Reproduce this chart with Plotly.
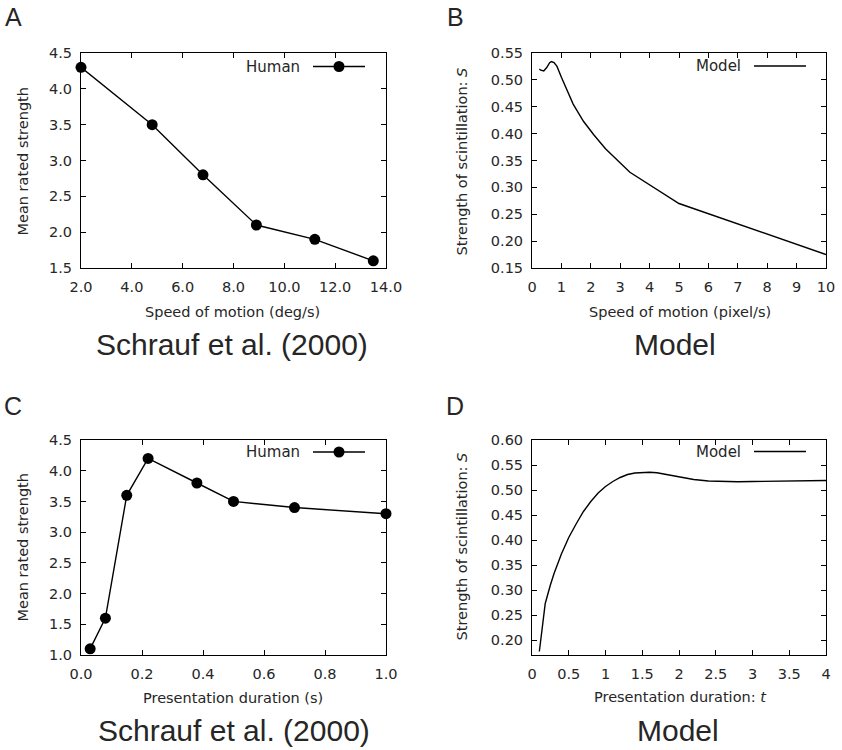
import plotly.graph_objects as go

W, H = 842, 750

# ---------------- data ----------------
# Panel A: Schrauf et al. (2000), speed of motion
speed_deg = [2.0, 4.8, 6.8, 8.9, 11.2, 13.5]
strength_speed = [4.3, 3.5, 2.8, 2.1, 1.9, 1.6]

# Panel B: model, speed of motion (pixel/s)
speed_pix = [0.25, 0.3, 0.4, 0.5, 0.6, 0.66, 0.75, 0.85, 1.0, 1.2, 1.4, 1.75, 2.1, 2.5, 2.9,
             3.33, 5.0, 10.0]
model_speed = [0.520, 0.518, 0.5165, 0.523, 0.532, 0.534, 0.532, 0.525, 0.505, 0.480, 0.455,
               0.423, 0.398, 0.372, 0.350, 0.328, 0.270, 0.175]

# Panel C: Schrauf et al. (2000), presentation duration (s)
duration_s = [0.03, 0.08, 0.15, 0.22, 0.38, 0.5, 0.7, 1.0]
strength_dur = [1.1, 1.6, 3.6, 4.2, 3.8, 3.5, 3.4, 3.3]

# Panel D: model, presentation duration t
duration_t = [0.1, 0.18, 0.25, 0.3, 0.4, 0.5, 0.6, 0.7, 0.8, 0.9, 1.0, 1.1, 1.2, 1.3, 1.4, 1.5,
              1.6, 1.7, 1.8, 2.0, 2.2, 2.4, 2.6, 2.8, 3.0, 3.5, 4.0]
model_dur = [0.177, 0.273, 0.310, 0.333, 0.372, 0.405, 0.432, 0.457, 0.477, 0.494, 0.507, 0.517,
             0.525, 0.531, 0.534, 0.5355, 0.5355, 0.5345, 0.532, 0.526, 0.521, 0.518, 0.5165,
             0.5165, 0.517, 0.518, 0.519]

# ---------------- layout helpers ----------------
def px(x):
    return x / W

def py(y):
    return 1 - y / H

TEXTC = "#262626"
TICKFONT = dict(family="DejaVu Sans", size=14.5, color=TEXTC)
TITLEFONT = dict(family="DejaVu Sans", size=14.5, color=TEXTC)
BIGFONT = dict(family="Liberation Sans, Arial", size=30, color=TEXTC)
LETTERFONT = dict(family="Liberation Sans, Arial", size=25, color=TEXTC)

def axis_common(**kw):
    d = dict(showline=True, linecolor="black", linewidth=1, mirror="ticks",
             ticks="inside", ticklen=5, tickcolor="black", tickwidth=1,
             showgrid=False, zeroline=False, tickfont=TICKFONT, fixedrange=True,
             automargin=False)
    d.update(kw)
    return d

fig = go.Figure()

line_style = dict(color="black", width=1.4)

fig.add_trace(go.Scatter(x=speed_deg, y=strength_speed, mode="lines+markers", name="Human",
                         line=line_style, marker=dict(size=11, color="black"),
                         cliponaxis=False, xaxis="x", yaxis="y"))
fig.add_trace(go.Scatter(x=speed_pix, y=model_speed, mode="lines", name="Model",
                         line=line_style, cliponaxis=False, xaxis="x2", yaxis="y2"))
fig.add_trace(go.Scatter(x=duration_s, y=strength_dur, mode="lines+markers", name="Human",
                         line=line_style, marker=dict(size=11, color="black"),
                         cliponaxis=False, xaxis="x3", yaxis="y3"))
fig.add_trace(go.Scatter(x=duration_t, y=model_dur, mode="lines", name="Model",
                         line=line_style, cliponaxis=False, xaxis="x4", yaxis="y4"))

# plot-area boxes (pixels)
LX = (81, 386)
RX = (532, 826)
TY = (53, 268)
BY = (440, 655)

XSO = 6   # x tick label standoff
YSO = 5   # y tick label standoff

layout = dict(
    width=W, height=H, margin=dict(l=0, r=0, t=0, b=0, autoexpand=False),
    paper_bgcolor="white", plot_bgcolor="white", showlegend=False,
    xaxis=axis_common(domain=[px(LX[0]), px(LX[1])], range=[2, 14], dtick=2, tick0=2,
                      tickformat=".1f", anchor="y", ticklabelstandoff=XSO),
    yaxis=axis_common(domain=[py(TY[1]), py(TY[0])], range=[1.5, 4.5], dtick=0.5,
                      tickformat=".1f", anchor="x", ticklabelstandoff=YSO),
    xaxis2=axis_common(domain=[px(RX[0]), px(RX[1])], range=[0, 10], dtick=1, anchor="y2",
                       ticklabelstandoff=XSO),
    yaxis2=axis_common(domain=[py(TY[1]), py(TY[0])], range=[0.15, 0.55], dtick=0.05,
                       tickformat=".2f", anchor="x2", ticklabelstandoff=YSO),
    xaxis3=axis_common(domain=[px(LX[0]), px(LX[1])], range=[0, 1], dtick=0.2,
                       tickformat=".1f", anchor="y3", ticklabelstandoff=XSO),
    yaxis3=axis_common(domain=[py(BY[1]), py(BY[0])], range=[1.0, 4.5], dtick=0.5,
                       tickformat=".1f", anchor="x3", ticklabelstandoff=YSO),
    xaxis4=axis_common(domain=[px(RX[0]), px(RX[1])], range=[0, 4], dtick=0.5, anchor="y4",
                       ticklabelstandoff=XSO),
    yaxis4=axis_common(domain=[py(BY[1]), py(BY[0])], range=[0.17, 0.60], dtick=0.05,
                       tick0=0.2, tickformat=".2f", anchor="x4", ticklabelstandoff=YSO),
)
fig.update_layout(**layout)

annotations = []
shapes = []

def text(x, y, s, font, xanchor="center", yanchor="middle", angle=0):
    annotations.append(dict(x=px(x), y=py(y), xref="paper", yref="paper", text=s,
                            showarrow=False, font=font, xanchor=xanchor, yanchor=yanchor,
                            textangle=angle))

# panel letters
text(13, 17, "A", LETTERFONT)
text(455, 17, "B", LETTERFONT)
text(13, 406, "C", LETTERFONT)
text(455, 406, "D", LETTERFONT)

# subtitles
text(232, 344, "Schrauf et al. (2000)", BIGFONT)
text(675, 344, "Model", BIGFONT)
text(234, 730, "Schrauf et al. (2000)", BIGFONT)
text(678, 730, "Model", BIGFONT)

# x-axis titles
text(233, 312, "Speed of motion (deg/s)", TITLEFONT)
text(680, 312, "Speed of motion (pixel/s)", TITLEFONT)
text(233, 698, "Presentation duration (s)", TITLEFONT)
text(680, 697, "Presentation duration: <i>t</i>", TITLEFONT)

# y-axis titles
text(22.5, 162, "Mean rated strength", TITLEFONT, angle=-90)
text(461.5, 162, "Strength of scintillation: <i>S</i>", TITLEFONT, angle=-90)
text(22.5, 548, "Mean rated strength", TITLEFONT, angle=-90)
text(461.5, 547, "Strength of scintillation: <i>S</i>", TITLEFONT, angle=-90)

# legends (gnuplot style: label then sample)
LEGFONT = dict(family="DejaVu Sans", size=15, color=TEXTC)

def legend(xtext, y, label, x0, x1, marker):
    text(xtext, y, label, LEGFONT, xanchor="right")
    shapes.append(dict(type="line", xref="paper", yref="paper", x0=px(x0), x1=px(x1),
                       y0=py(y), y1=py(y), line=dict(color="black", width=1.4)))
    if marker:
        xm = (x0 + x1) / 2
        r = 5.5
        shapes.append(dict(type="circle", xref="paper", yref="paper",
                           x0=px(xm - r), x1=px(xm + r), y0=py(y + r), y1=py(y - r),
                           fillcolor="black", line=dict(color="black", width=0)))

legend(302, 66.5, "Human", 313, 365, True)
legend(743, 66, "Model", 754, 806, False)
legend(302, 452, "Human", 313, 365, True)
legend(743, 451.5, "Model", 754, 806, False)

fig.update_layout(annotations=annotations, shapes=shapes)

fig.write_html("out.html")
